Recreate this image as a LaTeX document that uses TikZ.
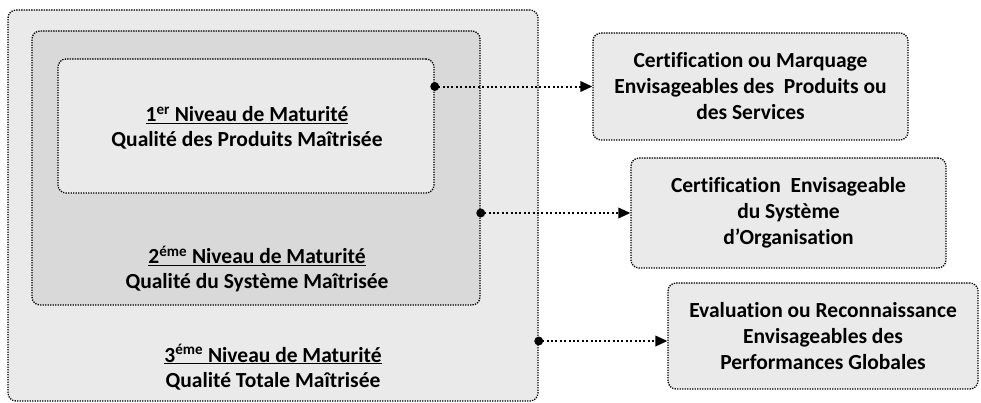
\documentclass[tikz,border=0pt]{standalone}
\usepackage{fontspec}
\setmainfont{Carlito}[Ligatures=NoCommon]
\usepackage{xcolor}
\usetikzlibrary{arrows.meta}
\definecolor{boxgray}{HTML}{EAEAEA}
\definecolor{midgray}{HTML}{D9D9D9}

\begin{document}
\begin{tikzpicture}[x=1pt,y=-1pt]

    \tikzset{frame/.style = {draw, rounded corners=8pt, line width=1.3pt, dash pattern=on 1.3pt off 1.2pt, inner sep=0pt}}
    \tikzset{target/.style = {frame, fill=boxgray, align=center, font=\fontsize{21.5}{26}\selectfont\bfseries}}
    \tikzset{label/.style = {align=center, font=\fontsize{21.5}{25}\selectfont\bfseries}}
    \tikzset{link/.style = {line width=2pt, dash pattern=on 2pt off 2.4pt, shorten <=-4.3pt,
        {Circle[length=8.8pt]}-{Triangle[length=12pt,width=10.5pt]}}}
    \useasboundingbox (0,0) rectangle (981,402);
    % nested levels
    \node[frame, fill=boxgray, minimum width=530pt, minimum height=391pt] (lvl3box) at (273,205.5) {};
    \node[frame, fill=midgray, minimum width=448pt, minimum height=274pt] (lvl2box) at (256,168) {};
    \node[frame, fill=boxgray, minimum width=376pt, minimum height=134pt] (lvl1box) at (246,126) {};
    \node[label] (lvl1) at (247,128) {\underline{1\textsuperscript{er} Niveau de Maturité}\\Qualité des Produits Maîtrisée};
    \node[label] (lvl2) at (257,269) {\underline{2\textsuperscript{éme} Niveau de Maturité}\\Qualité du Système Maîtrisée};
    \node[label] (lvl3) at (273,367) {\underline{3\textsuperscript{éme} Niveau de Maturité}\\Qualité Totale Maîtrisée};
    % outcomes
    \node[target, minimum width=315pt, minimum height=107pt] (certA) at (750.5,86.5)
        {Certification ou Marquage\\Envisageables des \ Produits ou\\des Services};
    \node[target, minimum width=315pt, minimum height=110pt] (certB) at (788.5,213)
        {Certification \ Envisageable\\du Système\\d’Organisation};
    \node[target, minimum width=310pt, minimum height=106pt] (evalC) at (823,336)
        {Evaluation ou Reconnaissance\\Envisageables des\\Performances Globales};
    %edges
    \coordinate (tipC) at ([yshift=-5pt]evalC.west);
    \draw[link] (lvl1box.east |- certA.west) -- (certA.west);
    \draw[link] (lvl2box.east |- certB.west) -- (certB.west);
    \draw[link] (lvl3box.east |- tipC) -- (tipC);
\end{tikzpicture}
\end{document}
